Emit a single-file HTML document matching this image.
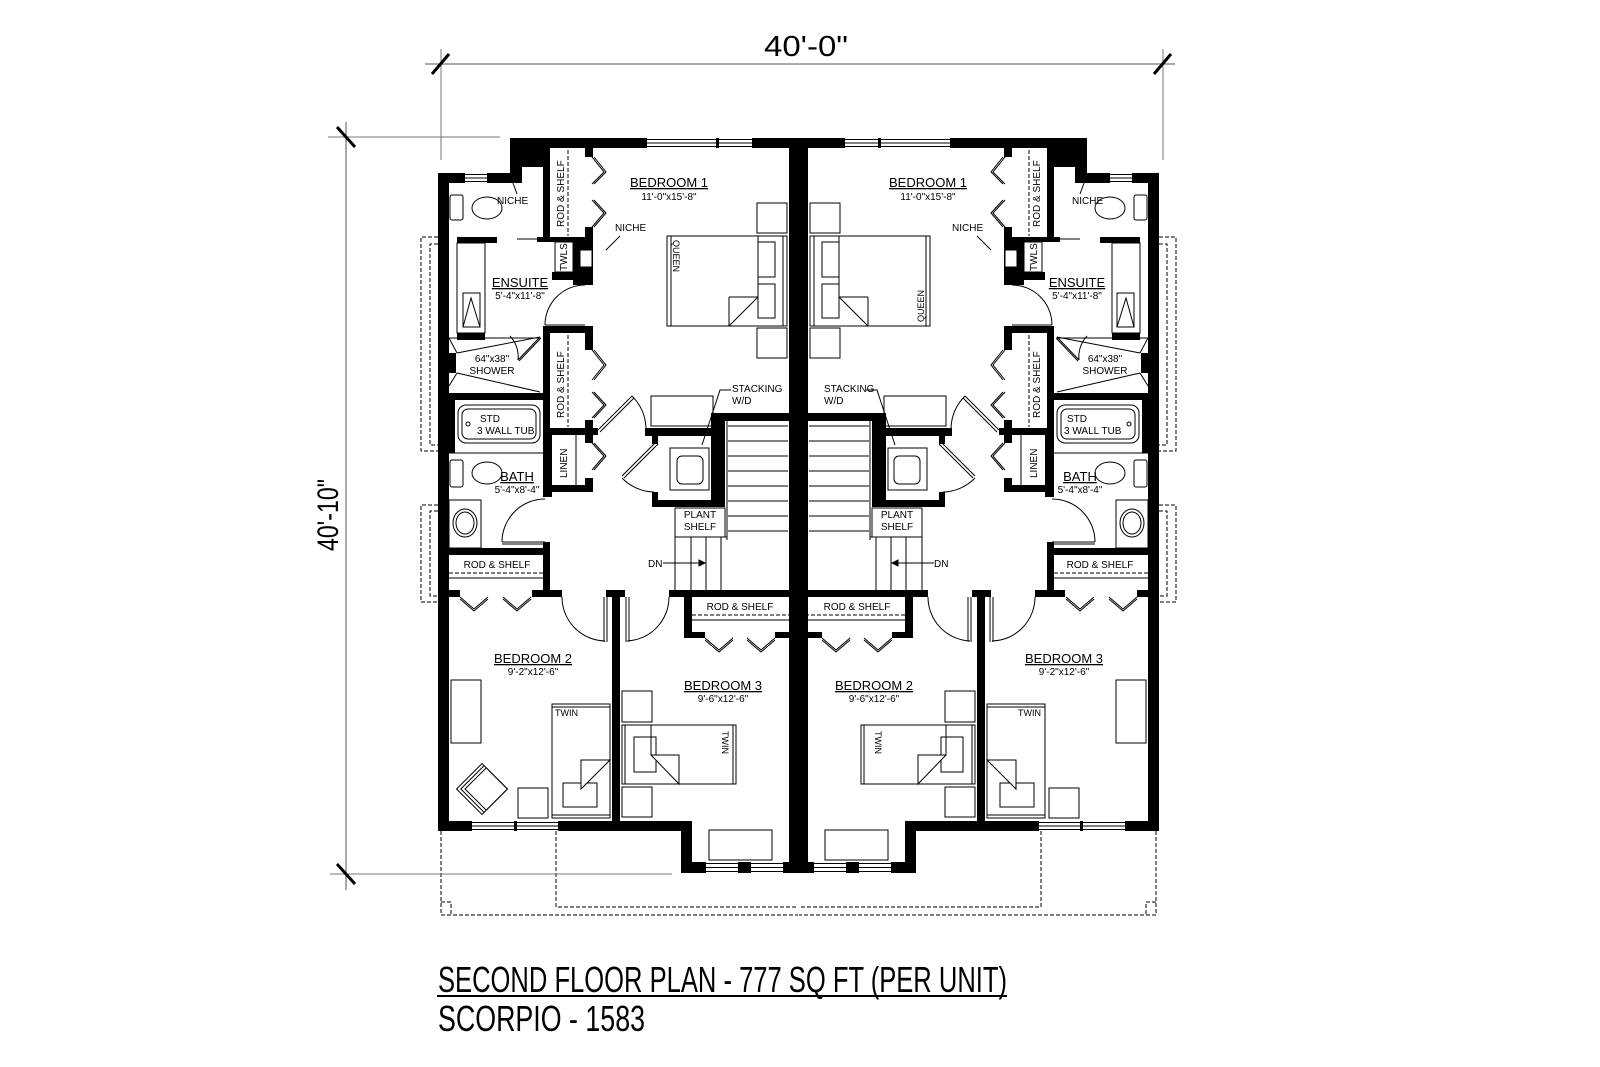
<!DOCTYPE html>
<html><head><meta charset="utf-8"><style>
html,body{margin:0;padding:0;background:#fff}
svg{display:block}
text{font-family:"Liberation Sans",sans-serif;fill:#000}
</style></head><body>
<svg width="1600" height="1067" viewBox="0 0 1600 1067" xmlns="http://www.w3.org/2000/svg">
<defs>
<g id="u">
 <g fill="#000">
  <rect x="510" y="138" width="137" height="10"/>
  <rect x="752" y="138" width="56" height="10"/>
  <rect x="510" y="138" width="12" height="45"/>
  <rect x="510" y="138" width="38" height="29"/>
  <rect x="543" y="138" width="7" height="104"/>
  <rect x="438" y="173" width="27" height="10"/>
  <rect x="487" y="173" width="35" height="10"/>
  <rect x="438" y="173" width="11" height="657"/>
  <rect x="585" y="148" width="8" height="9"/>
  <rect x="585" y="227" width="8" height="10"/>
  <rect x="537" y="237" width="56" height="5"/>
  <rect x="573" y="237" width="20" height="48"/>
  <rect x="552" y="272" width="41" height="8"/>
  <rect x="457" y="237" width="40" height="6"/>
  <rect x="457" y="333" width="28" height="7"/>
  <rect x="543" y="326" width="50" height="7"/>
  <rect x="585" y="326" width="8" height="24"/>
  <rect x="543" y="326" width="7" height="110"/>
  <rect x="438" y="353" width="18" height="20"/>
  <rect x="438" y="393" width="112" height="7"/>
  <rect x="438" y="393" width="17" height="60"/>
  <rect x="585" y="420" width="8" height="22"/>
  <rect x="543" y="428" width="55" height="7"/>
  <rect x="543" y="428" width="9" height="69"/>
  <rect x="543" y="485" width="50" height="7"/>
  <rect x="585" y="435" width="8" height="8"/>
  <rect x="585" y="478" width="8" height="8"/>
  <rect x="449" y="548" width="101" height="7"/>
  <rect x="543" y="542" width="7" height="55"/>
  <rect x="645" y="428" width="80" height="8"/>
  <rect x="711" y="413" width="14" height="94"/>
  <rect x="652" y="500" width="73" height="7"/>
  <rect x="652" y="436" width="6" height="8"/>
  <rect x="652" y="492" width="6" height="8"/>
  <rect x="717" y="413" width="73" height="8"/>
  <rect x="789" y="138" width="19" height="735"/>
  <rect x="438" y="590" width="22" height="7"/>
  <rect x="532" y="590" width="30" height="7"/>
  <rect x="606" y="590" width="19" height="7"/>
  <rect x="669" y="590" width="139" height="7"/>
  <rect x="612" y="590" width="8" height="237"/>
  <rect x="684" y="597" width="8" height="41"/>
  <rect x="684" y="632" width="21" height="6"/>
  <rect x="775" y="632" width="14" height="6"/>
  <rect x="438" y="821" width="34" height="10"/>
  <rect x="514" y="821" width="3" height="10"/>
  <rect x="558" y="821" width="134" height="10"/>
  <rect x="681" y="821" width="11" height="52"/>
  <rect x="681" y="862" width="25" height="11"/>
  <rect x="738" y="862" width="13" height="11"/>
  <rect x="783" y="862" width="25" height="11"/>
  <rect x="716" y="138" width="3" height="10"/>
 </g>
 <g stroke="#000" stroke-width="1" fill="none">
  <path d="M647 139.5H752M647 143H752M647 146.5H752"/>
  <path d="M465 174.5H487M465 178H487M465 181.5H487"/>
  <path d="M472 822.5H558M472 826H558M472 829.5H558"/>
  <path d="M706 863.5H783M706 867.5H783M706 871.5H783"/>
 </g>
 <g stroke="#000" stroke-width="1" fill="none" stroke-dasharray="4,2">
  <path d="M568 150V236M568 335V427"/>
  <path d="M449 573H543"/>
  <path d="M692 615H789"/>
  <path d="M438 237H421V451H438M438 244H430V445H438"/>
  <path d="M438 505H421V602H438M438 511H430V596H438"/>
  <path d="M441 831V915H798M556 831V907H798"/>
  <path d="M441 902H451V915"/>
 </g>
 <g stroke="#000" stroke-width="1" fill="none">
  <path d="M449 578H543M692 620H789"/>
  <path d="M592 157L604 172L592 184M594 157L606 172L594 184"/>
  <path d="M592 200L604 213L592 227M594 200L606 213L594 227"/>
  <path d="M592 350L604 365L592 380M594 350L606 365L594 380"/>
  <path d="M592 392L604 405L592 418M594 392L606 405L594 418"/>
  <path d="M592 443L604 456L592 470M594 443L606 456L594 470"/>
  <path d="M460 597L474 609L488 597M460 599L474 611L488 599"/>
  <path d="M503 597L517 609L531 597M503 599L517 611L531 599"/>
  <path d="M705 638L719 650L733 638M705 640L719 652L733 640"/>
  <path d="M747 638L761 650L775 638M747 640L761 652L775 640"/>
  <rect x="555" y="242" width="18" height="30"/>
  <rect x="580" y="250" width="12" height="17" fill="#fff"/>
  <path d="M545 325H585M545 327H585"/>
  <path d="M545 325A40 40 0 0 1 585 285"/>
  <path d="M502 542H545M502 544H545"/>
  <path d="M502 542A43 43 0 0 1 545 499"/>
  <path d="M598 430L632 396M600 432L634 398"/>
  <path d="M632 396A48 48 0 0 1 646 428"/>
  <path d="M658 444L624 478M656 442L622 476"/>
  <path d="M622 478A46 46 0 0 0 654 492"/>
  <path d="M604 597V642M607 597V642M562 597A44 44 0 0 0 605 641"/>
  <path d="M626 597V642M629 597V642M669 597A44 44 0 0 1 627 641"/>
  <path d="M517 239H537"/>
  <rect x="457" y="243" width="28" height="90"/>
  <path d="M463 293H480V327H463Z M463 327L471 298L480 327"/>
  <path d="M449 338H540M449 338L457 353M457 373L449 386M457 373L540 392M457 353L540 337"/>
  <path d="M540 337L518 360M541 338L519 361M518 360A30 30 0 0 0 510 336"/>
  <rect x="458" y="405" width="82" height="38" rx="8"/>
  <rect x="462" y="409" width="74" height="30" rx="6"/>
  <circle cx="468" cy="424" r="2"/>
  <path d="M449 453H543"/>
  <rect x="450" y="195" width="13" height="25" rx="2"/>
  <ellipse cx="487" cy="208" rx="15" ry="11"/>
  <path d="M517 194L513 183"/>
  <rect x="450" y="460" width="13" height="27" rx="2"/>
  <ellipse cx="487" cy="473" rx="15" ry="11"/>
  <rect x="449" y="500" width="32" height="48"/>
  <ellipse cx="465" cy="523" rx="12" ry="14"/>
  <ellipse cx="465" cy="523" rx="9" ry="11"/>
  <path d="M576 435V485"/>
  <rect x="651" y="396" width="62" height="30"/>
  <rect x="670" y="448" width="39" height="42"/>
  <rect x="677" y="456" width="26" height="28" rx="5"/>
  <path d="M727 421V540M675 537H727M675 508H725V537M675 508V537"/>
  <path d="M728 426H788M728 441H788M728 456H788M728 471H788M728 486H788M728 501H788M728 516H788M728 531H788"/>
  <path d="M675 537V590M691 537V590M706 537V590M721 537V590"/>
  <path d="M663 563H705"/>
  <path d="M705 563L699 560V566Z" fill="#000"/>
  <path d="M731 390H720L702 445"/>
  <rect x="757" y="203" width="30" height="30"/>
  <rect x="757" y="328" width="30" height="30"/>
  <rect x="667" y="236" width="120" height="90"/>
  <path d="M671 236V326M783 236V326"/>
  <rect x="758" y="242" width="17" height="35"/>
  <rect x="758" y="284" width="17" height="34"/>
  <path d="M758 236V297L729 326M729 297H758M729 297V326"/>
  <path d="M620 236L606 250"/>
  <rect x="451" y="680" width="30" height="63"/>
  <rect x="552" y="704" width="58" height="114"/>
  <path d="M552 707H610M552 815H610"/>
  <rect x="563" y="783" width="34" height="24"/>
  <path d="M581 789V760H610L581 789Z" fill="#fff"/>
  <rect x="518" y="788" width="30" height="30"/>
  <rect x="622" y="691" width="30" height="31"/>
  <rect x="622" y="787" width="30" height="30"/>
  <rect x="622" y="725" width="114" height="59"/>
  <path d="M625 725V784M733 725V784"/>
  <rect x="634" y="737" width="22" height="35"/>
  <path d="M651 725V755H679V784H679L651 755Z" fill="#fff"/>
  <rect x="709" y="830" width="63" height="30"/>
 </g>
</g>
</defs>

<use href="#u"/>
<use href="#u" transform="translate(1597 0) scale(-1 1)"/>

<g stroke="#000" stroke-width="1" fill="none" transform="translate(482 789) rotate(45)">
 <rect x="-18" y="-18" width="36" height="36"/>
 <rect x="-12" y="-18" width="30" height="30"/>
 <path d="M-15 -18V15H18"/>
</g>

<g stroke="#000" fill="none">
 <path d="M425 64H1175" stroke-width="1" stroke="#555"/>
 <path d="M441 49V160M1163 49V160" stroke-width="1" stroke="#777"/>
 <path d="M432 74L449 54M1154 74L1171 54" stroke-width="3"/>
 <path d="M346 122V890" stroke-width="1" stroke="#555"/>
 <path d="M328 137H500M330 874H672" stroke-width="1" stroke="#777"/>
 <path d="M337 127L355 147M337 864L355 884" stroke-width="3"/>
 <path d="M437 996H1007" stroke-width="2"/>
</g>
<text x="806" y="56" font-size="29" text-anchor="middle" textLength="84" lengthAdjust="spacingAndGlyphs">40'-0"</text>
<text transform="translate(338 515) rotate(-90)" font-size="30" text-anchor="middle" textLength="72" lengthAdjust="spacingAndGlyphs">40'-10"</text>
<text x="438" y="992" font-size="36" textLength="569" lengthAdjust="spacingAndGlyphs">SECOND FLOOR PLAN - 777 SQ FT (PER UNIT)</text>
<text x="438" y="1031" font-size="36" textLength="207" lengthAdjust="spacingAndGlyphs">SCORPIO - 1583</text>

<g font-size="12" text-anchor="middle">
 <text x="669" y="187" text-decoration="underline" font-size="13">BEDROOM 1</text>
 <text x="669" y="200" font-size="10">11'-0"x15'-8"</text>
 <text x="520" y="287" text-decoration="underline" font-size="13">ENSUITE</text>
 <text x="520" y="299" font-size="10">5'-4"x11'-8"</text>
 <text x="517" y="481" text-decoration="underline" font-size="13">BATH</text>
 <text x="517" y="493" font-size="10">5'-4"x8'-4"</text>
 <text x="533" y="663" text-decoration="underline" font-size="13">BEDROOM 2</text>
 <text x="533" y="675" font-size="10">9'-2"x12'-6"</text>
 <text x="723" y="690" text-decoration="underline" font-size="13">BEDROOM 3</text>
 <text x="723" y="702" font-size="10">9'-6"x12'-6"</text>
 <text x="497" y="568" font-size="10">ROD &amp; SHELF</text>
 <text x="740" y="610" font-size="10">ROD &amp; SHELF</text>
 <text x="492" y="362" font-size="10">64"x38"</text>
 <text x="492" y="374" font-size="10">SHOWER</text>
 <text x="700" y="518" font-size="10">PLANT</text>
 <text x="700" y="530" font-size="10">SHELF</text>
</g>
<g font-size="10">
 <text x="497" y="204">NICHE</text>
 <text x="615" y="231">NICHE</text>
 <text x="480" y="422">STD</text>
 <text x="477" y="434">3 WALL TUB</text>
 <text x="732" y="392">STACKING</text>
 <text x="732" y="404">W/D</text>
 <text x="648" y="567">DN</text>
 <text transform="translate(564 227) rotate(-90)">ROD &amp; SHELF</text>
 <text transform="translate(564 418) rotate(-90)">ROD &amp; SHELF</text>
 <text transform="translate(567 271) rotate(-90)">TWLS</text>
 <text transform="translate(567 478) rotate(-90)">LINEN</text>
 <text x="555" y="716" font-family="Liberation Serif" font-size="9">TWIN</text>
 <text transform="translate(722 731) rotate(90)" font-family="Liberation Serif" font-size="9">TWIN</text>
 <text transform="translate(673 240) rotate(90)" font-family="Liberation Serif" font-size="9">QUEEN</text>
</g>
<g font-size="12" text-anchor="middle">
 <text x="928" y="187" text-decoration="underline" font-size="13">BEDROOM 1</text>
 <text x="928" y="200" font-size="10">11'-0"x15'-8"</text>
 <text x="1077" y="287" text-decoration="underline" font-size="13">ENSUITE</text>
 <text x="1077" y="299" font-size="10">5'-4"x11'-8"</text>
 <text x="1080" y="481" text-decoration="underline" font-size="13">BATH</text>
 <text x="1080" y="493" font-size="10">5'-4"x8'-4"</text>
 <text x="1064" y="663" text-decoration="underline" font-size="13">BEDROOM 3</text>
 <text x="1064" y="675" font-size="10">9'-2"x12'-6"</text>
 <text x="874" y="690" text-decoration="underline" font-size="13">BEDROOM 2</text>
 <text x="874" y="702" font-size="10">9'-6"x12'-6"</text>
 <text x="1100" y="568" font-size="10">ROD &amp; SHELF</text>
 <text x="857" y="610" font-size="10">ROD &amp; SHELF</text>
 <text x="1105" y="362" font-size="10">64"x38"</text>
 <text x="1105" y="374" font-size="10">SHOWER</text>
 <text x="897" y="518" font-size="10">PLANT</text>
 <text x="897" y="530" font-size="10">SHELF</text>
</g>
<g font-size="10">
 <text x="1072" y="204">NICHE</text>
 <text x="952" y="231">NICHE</text>
 <text x="1067" y="422">STD</text>
 <text x="1064" y="434">3 WALL TUB</text>
 <text x="824" y="392">STACKING</text>
 <text x="824" y="404">W/D</text>
 <text x="934" y="567">DN</text>
 <text transform="translate(1040 227) rotate(-90)">ROD &amp; SHELF</text>
 <text transform="translate(1040 418) rotate(-90)">ROD &amp; SHELF</text>
 <text transform="translate(1037 271) rotate(-90)">TWLS</text>
 <text transform="translate(1037 478) rotate(-90)">LINEN</text>
 <text x="1018" y="716" font-family="Liberation Serif" font-size="9">TWIN</text>
 <text transform="translate(875 731) rotate(90)" font-family="Liberation Serif" font-size="9">TWIN</text>
 <text transform="translate(924 322) rotate(-90)" font-family="Liberation Serif" font-size="9">QUEEN</text>
</g>
</svg>
</body></html>
